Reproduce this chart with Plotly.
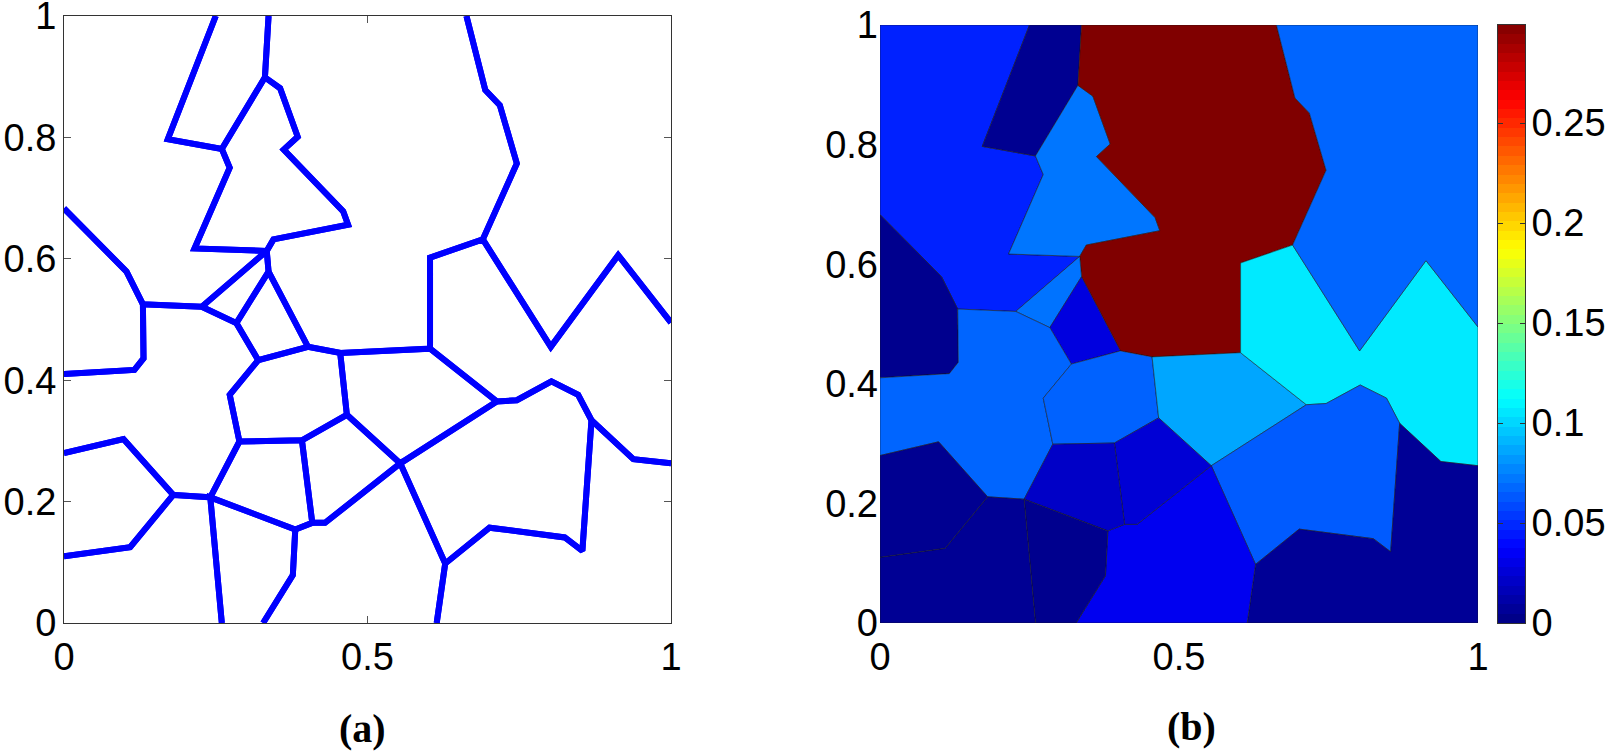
import plotly.graph_objects as go
from plotly.colors import sample_colorscale

# ---------------- data ----------------
# Vertex coordinates of the tessellation (unit square)
vertex_x = [0.000, 1.000, 1.000, 0.000, 0.250, 0.171, 0.260, 0.273, 0.215, 0.334,
            0.331, 0.337, 0.356, 0.385, 0.362, 0.460, 0.468, 0.345, 0.337, 0.227,
            0.000, 0.103, 0.130, 0.131, 0.116, 0.000, 0.284, 0.320, 0.402, 0.455,
            0.603, 0.273, 0.289, 0.392, 0.466, 0.554, 0.241, 0.180, 0.098, 0.000,
            0.109, 0.000, 0.260, 0.381, 0.377, 0.328, 0.409, 0.430, 0.713, 0.746,
            0.803, 0.847, 0.869, 0.938, 1.000, 0.854, 0.825, 0.701, 0.628, 0.614,
            0.663, 0.694, 0.718, 0.746, 0.690, 0.603, 0.802, 0.913, 1.000]
vertex_y = [1.000, 1.000, 0.000, 0.000, 1.000, 0.797, 0.781, 0.750, 0.617, 0.613,
            0.899, 1.000, 0.881, 0.801, 0.780, 0.678, 0.656, 0.632, 0.579, 0.521,
            0.683, 0.579, 0.525, 0.436, 0.417, 0.410, 0.494, 0.433, 0.455, 0.445,
            0.452, 0.376, 0.299, 0.301, 0.343, 0.263, 0.207, 0.211, 0.303, 0.280,
            0.125, 0.110, 0.000, 0.154, 0.079, 0.000, 0.165, 0.165, 0.365, 0.367,
            0.398, 0.376, 0.334, 0.270, 0.263, 0.119, 0.141, 0.157, 0.098, 0.000,
            1.000, 0.878, 0.853, 0.757, 0.632, 0.602, 0.455, 0.606, 0.495]

# Cells as vertex index rings
cells = [
    [0, 4, 5, 6, 7, 8, 9, 19, 22, 21, 20],
    [4, 11, 10, 6, 5],
    [10, 12, 13, 14, 15, 16, 17, 9, 8, 7, 6],
    [11, 60, 61, 62, 63, 64, 65, 30, 29, 28, 18, 9, 17, 16, 15, 14, 13, 12, 10],
    [19, 9, 18, 26],
    [26, 18, 28, 27],
    [20, 21, 22, 23, 24, 25],
    [22, 19, 26, 27, 31, 32, 36, 37, 38, 39, 25, 24, 23],
    [27, 28, 29, 34, 33, 32, 31],
    [29, 30, 48, 35, 34],
    [30, 65, 64, 66, 67, 68, 54, 53, 52, 51, 50, 49, 48],
    [60, 1, 68, 67, 66, 64, 63, 62, 61],
    [35, 48, 49, 50, 51, 52, 55, 56, 57, 58],
    [58, 57, 56, 55, 52, 53, 54, 2, 59],
    [45, 44, 43, 46, 47, 35, 58, 59],
    [33, 34, 35, 47, 46],
    [32, 33, 46, 43, 36],
    [36, 43, 44, 45, 42],
    [41, 40, 37, 36, 42, 3],
    [39, 38, 37, 40, 41],
]
# Field value of each cell (panel b)
cell_values = [0.047, 0.005, 0.072, 0.299, 0.071, 0.028, 0.004, 0.067, 0.066, 0.086,
               0.106, 0.067, 0.064, 0.0066, 0.033, 0.025, 0.021, 0.004, 0.006, 0.005]

x_ticks = [0, 0.5, 1]
x_tick_labels = ["0", "0.5", "1"]
y_ticks = [0, 0.2, 0.4, 0.6, 0.8, 1]
y_tick_labels = ["0", "0.2", "0.4", "0.6", "0.8", "1"]
cbar_ticks = [0, 0.05, 0.1, 0.15, 0.2, 0.25]
cbar_tick_labels = ["0", "0.05", "0.1", "0.15", "0.2", "0.25"]
c_max = 0.299

# ---------------- colour scale (MATLAB-like jet, 64 steps) ----------------
JET = [[0.0, "rgb(0,0,128)"], [0.125, "rgb(0,0,255)"], [0.375, "rgb(0,255,255)"],
       [0.625, "rgb(255,255,0)"], [0.875, "rgb(255,0,0)"], [1.0, "rgb(128,0,0)"]]
N_STEPS = 64
jet_steps = []
for i in range(N_STEPS):
    c = sample_colorscale(JET, [(i + 0.5) / N_STEPS])[0]
    jet_steps.append([i / N_STEPS, c])
    jet_steps.append([(i + 1) / N_STEPS, c])
# colour-bar strip: one level per colormap step
bar_levels = [(i + 0.5) * c_max / N_STEPS for i in range(N_STEPS)]

W, H = 1612, 751
FONT = "Arial, Liberation Sans, sans-serif"
TICKFONT = dict(family=FONT, size=38, color="black")

fig = go.Figure()


def on_border(a, b):
    for v in (0.0, 1.0):
        if vertex_x[a] == v and vertex_x[b] == v:
            return True
        if vertex_y[a] == v and vertex_y[b] == v:
            return True
    return False


# ---------------- panel (a): cell boundaries ----------------
lx, ly = [], []
for cell in cells:
    n = len(cell)
    start = 0
    for k in range(n):
        if on_border(cell[k - 1], cell[k]):
            start = k
            break
    order = cell[start:] + cell[:start]
    ring = order + [order[0]]
    run = []
    for a, b in zip(ring[:-1], ring[1:]):
        if on_border(a, b):
            if len(run) > 1:
                lx.extend([vertex_x[i] for i in run] + [None])
                ly.extend([vertex_y[i] for i in run] + [None])
            run = []
        else:
            if not run:
                run = [a]
            run.append(b)
    if len(run) > 1:
        lx.extend([vertex_x[i] for i in run] + [None])
        ly.extend([vertex_y[i] for i in run] + [None])

fig.add_trace(go.Scatter(x=lx, y=ly, mode="lines", xaxis="x", yaxis="y",
                         line=dict(color="#0000FF", width=6),
                         hoverinfo="skip", showlegend=False))

# ---------------- panel (b): filled cells ----------------
fill_colors = sample_colorscale(JET, [min(v / c_max, 1.0) for v in cell_values])
for cell, col in zip(cells, fill_colors):
    fig.add_trace(go.Scatter(
        x=[vertex_x[i] for i in cell] + [vertex_x[cell[0]]],
        y=[vertex_y[i] for i in cell] + [vertex_y[cell[0]]],
        mode="lines", fill="toself", fillcolor=col,
        line=dict(color="rgba(20,20,20,0.85)", width=0.6),
        xaxis="x2", yaxis="y2", hoverinfo="skip", showlegend=False))

# ---------------- colour bar as its own small axis ----------------
fig.add_trace(go.Heatmap(
    x=[0], y=bar_levels, z=[[v] for v in bar_levels],
    colorscale=jet_steps, zmin=0, zmax=c_max, showscale=False,
    xaxis="x3", yaxis="y3", hoverinfo="skip"))

axis_a = dict(range=[0, 1], showgrid=False, zeroline=False, showline=True,
              linecolor="#333", linewidth=1, mirror="ticks", ticks="inside",
              ticklen=7, tickwidth=1, tickcolor="#555", tickfont=TICKFONT,
              fixedrange=True, automargin=False, ticklabeloverflow="allow")
axis_b = dict(range=[0, 1], showgrid=False, zeroline=False, showline=False,
              ticks="", tickfont=TICKFONT, fixedrange=True, automargin=False,
              ticklabeloverflow="allow")

fig.update_layout(
    width=W, height=H, autosize=False,
    margin=dict(l=0, r=0, t=0, b=0, pad=0, autoexpand=False),
    paper_bgcolor="white", plot_bgcolor="white",
    showlegend=False,
    xaxis=dict(axis_a, domain=[64 / W, 671 / W], anchor="y",
               tickvals=x_ticks, ticktext=x_tick_labels, ticklabelstandoff=0),
    yaxis=dict(axis_a, domain=[1 - 623 / H, 1 - 16 / H], anchor="x",
               tickvals=y_ticks, ticktext=y_tick_labels, ticklabelstandoff=-1),
    xaxis2=dict(axis_b, domain=[880 / W, 1478 / W], anchor="y2",
                tickvals=x_ticks, ticktext=x_tick_labels, ticklabelstandoff=8),
    yaxis2=dict(axis_b, domain=[1 - 623 / H, 1 - 25 / H], anchor="x2",
                tickvals=y_ticks, ticktext=y_tick_labels, ticklabelstandoff=1),
    xaxis3=dict(domain=[1498 / W, 1525 / W], anchor="y3", range=[-0.5, 0.5],
                showgrid=False, zeroline=False, showticklabels=False, ticks="",
                showline=True, linecolor="#333", linewidth=1, mirror=True,
                fixedrange=True, automargin=False),
    yaxis3=dict(domain=[1 - 623 / H, 1 - 25 / H], anchor="x3", range=[0, c_max],
                side="right", showgrid=False, zeroline=False,
                showline=True, linecolor="#333", linewidth=1, mirror="ticks",
                ticks="inside", ticklen=5, tickcolor="#333",
                tickvals=cbar_ticks, ticktext=cbar_tick_labels,
                tickfont=TICKFONT, fixedrange=True, automargin=False,
                ticklabeloverflow="allow", ticklabelstandoff=-2),
    annotations=[
        dict(text="<b>(a)</b>", x=362 / W, y=1 - 728 / H, xref="paper", yref="paper",
             xanchor="center", yanchor="middle", showarrow=False,
             font=dict(family="Liberation Serif, Times New Roman, serif", size=40, color="black")),
        dict(text="<b>(b)</b>", x=1191 / W, y=1 - 726 / H, xref="paper", yref="paper",
             xanchor="center", yanchor="middle", showarrow=False,
             font=dict(family="Liberation Serif, Times New Roman, serif", size=40, color="black")),
    ],
)

fig.write_html("out.html", config={"displayModeBar": False},
               post_script="document.body.style.margin='0';")
